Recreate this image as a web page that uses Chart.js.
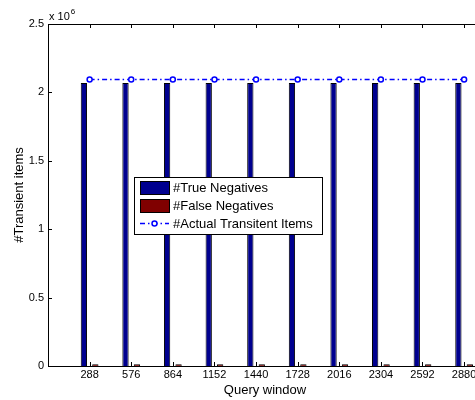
<!DOCTYPE html>
<html>
<head>
<meta charset="utf-8">
<script src="https://cdn.jsdelivr.net/npm/chart.js@4.4.1/dist/chart.umd.min.js"></script>
<style>
html,body{margin:0;padding:0;background:#fff;overflow:hidden;}
#wrap{width:475px;height:400px;overflow:hidden;position:relative;}
canvas{display:block;}
</style>
</head>
<body>
<div id="wrap"><canvas id="c" width="490" height="400"></canvas></div>
<script>
// ---- data ----
const categories = ['288','576','864','1152','1440','1728','2016','2304','2592','2880'];
const trueNegatives = [2068000,2068000,2068000,2068000,2068000,2068000,2068000,2068000,2068000,2068000];
const falseNegatives = [12000,12000,12000,12000,12000,12000,12000,12000,12000,12000];
const actualTransient = [2095000,2095000,2095000,2095000,2095000,2095000,2095000,2095000,2095000,2095000];
const yTicks = [0,500000,1000000,1500000,2000000,2500000];

const FONT = 'Liberation Sans, Arial, Helvetica, sans-serif';
const toXY = arr => arr.map((v,i)=>({x:i+1,y:v}));

const BLUE = '#00008f', RED = '#800000', LINE = '#0000ff';

const matlabPlugin = {
  id:'matlab',
  afterDraw(chart){
    const ctx = chart.ctx, a = chart.chartArea;
    const xs = chart.scales.x, ys = chart.scales.y;
    ctx.save();
    ctx.strokeStyle = '#000'; ctx.lineWidth = 1;
    // top border
    ctx.beginPath(); ctx.moveTo(a.left, Math.round(a.top)+0.5); ctx.lineTo(a.right, Math.round(a.top)+0.5); ctx.stroke();
    // inward ticks
    ctx.beginPath();
    xs.ticks.forEach(t=>{
      const px = Math.round(xs.getPixelForValue(t.value))+0.5;
      ctx.moveTo(px, a.bottom); ctx.lineTo(px, a.bottom-4);
      ctx.moveTo(px, a.top); ctx.lineTo(px, a.top+4);
    });
    ys.ticks.forEach(t=>{
      const py = Math.round(ys.getPixelForValue(t.value))+0.5;
      ctx.moveTo(a.left, py); ctx.lineTo(a.left+4, py);
    });
    ctx.stroke();
    // exponent label
    ctx.fillStyle = '#000';
    ctx.textBaseline = 'alphabetic';
    ctx.font = '11px ' + FONT;
    ctx.fillText('x 10', a.left+1, 20);
    const w = ctx.measureText('x 10').width;
    ctx.font = '8px ' + FONT;
    ctx.fillText('6', a.left+1+w+1, 14);
    // legend
    const lx = 134.5, ly = 177.5, lw = 188, lh = 57;
    ctx.fillStyle = '#fff';
    ctx.fillRect(lx, ly, lw, lh);
    ctx.strokeStyle = '#000';
    ctx.strokeRect(lx, ly, lw, lh);
    const ds = chart.data.datasets;
    const rows = [187.5, 205.5, 223];
    ctx.font = '13px ' + FONT;
    ctx.textBaseline = 'middle';
    ds.forEach((d,i)=>{
      const cy = rows[i];
      if (d.type === 'line') {
        ctx.strokeStyle = d.borderColor; ctx.lineWidth = d.borderWidth;
        ctx.setLineDash(d.borderDash);
        ctx.beginPath(); ctx.moveTo(140, cy+0.5); ctx.lineTo(169, cy+0.5); ctx.stroke();
        ctx.setLineDash([]);
        ctx.beginPath(); ctx.arc(154.5, cy+0.5, 2.5, 0, Math.PI*2);
        ctx.fillStyle = '#fff'; ctx.fill();
        ctx.lineWidth = 1.5; ctx.stroke();
      } else {
        ctx.fillStyle = d.backgroundColor;
        ctx.fillRect(140.5, cy-6, 29, 13);
        ctx.strokeStyle = '#000'; ctx.lineWidth = 1;
        ctx.strokeRect(140.5, cy-6, 29, 13);
      }
      ctx.fillStyle = '#000';
      ctx.fillText(d.label, 173, cy+1);
    });
    ctx.restore();
  }
};

new Chart(document.getElementById('c'), {
  type:'bar',
  data:{
    datasets:[
      {label:'#True Negatives', data:toXY(trueNegatives), backgroundColor:BLUE, borderColor:'#000', borderWidth:1, order:2,
       categoryPercentage:0.55, barPercentage:0.55},
      {label:'#False Negatives', data:toXY(falseNegatives), backgroundColor:RED, borderColor:'#000', borderWidth:1, order:2,
       categoryPercentage:0.55, barPercentage:0.55},
      {type:'line', label:'#Actual Transitent Items', data:toXY(actualTransient), borderColor:LINE, borderWidth:1.5,
       borderDash:[5,3,1.5,3], pointRadius:2.5, pointBorderWidth:1.5, pointBackgroundColor:'#fff', pointBorderColor:LINE,
       fill:false, order:0}
    ]
  },
  options:{
    responsive:false, animation:false,
    layout:{padding:{left:0,right:8,top:24,bottom:0}},
    plugins:{legend:{display:false}, tooltip:{enabled:false}},
    scales:{
      x:{
        type:'linear', min:0, max:10.43, offset:false,
        afterBuildTicks(s){ s.ticks = categories.map((c,i)=>({value:i+1})); },
        afterFit(s){ s.height = 34; },
        ticks:{autoSkip:false, maxRotation:0, padding:2, color:'#000', font:{family:FONT,size:11},
               callback:(v)=>categories[v-1] ?? ''},
        grid:{display:false, drawTicks:false, offset:false},
        border:{display:true, color:'#000', width:1},
        title:{display:true, text:'Query window', color:'#000', font:{family:FONT,size:13}, padding:{top:0,bottom:2}}
      },
      y:{
        min:0, max:2500000,
        afterBuildTicks(s){ s.ticks = yTicks.map(v=>({value:v})); },
        afterFit(s){ s.width = 48; },
        ticks:{padding:4, color:'#000', font:{family:FONT,size:11}, callback:(v)=>String(v/1e6)},
        grid:{display:false, drawTicks:false},
        border:{display:true, color:'#000', width:1},
        title:{display:true, text:'#Transient items', color:'#000', font:{family:FONT,size:13}, padding:{top:12,bottom:0}}
      }
    }
  },
  plugins:[matlabPlugin]
});
</script>
</body>
</html>
